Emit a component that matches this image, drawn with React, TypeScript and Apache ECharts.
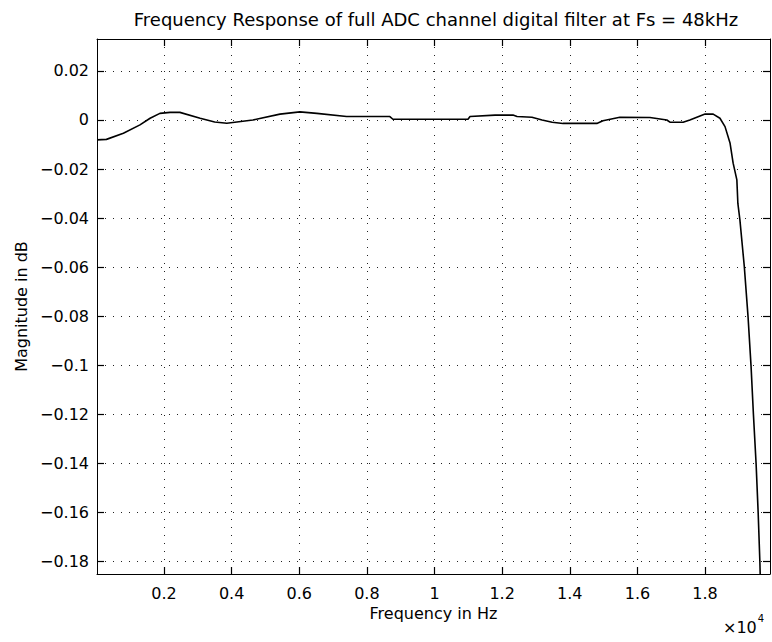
import React, { useEffect, useRef } from "react";
import * as echarts from "echarts";

const freqHz = [20, 300, 800, 1290, 1590, 1880, 2180, 2470, 3070, 3500, 3860, 4630, 5430, 6020, 6520, 7400, 8180, 8680, 8770, 10990, 11050, 11790, 12320, 12440, 12880, 13180, 13480, 13800, 14800, 14980, 15480, 16370, 16870, 16960, 17350, 17550, 17850, 18000, 18240, 18440, 18590, 18740, 18830, 18940, 18970, 19030, 19160, 19270, 19360, 19430, 19510, 19570, 19620, 19640];
const magDb = [-0.0081, -0.0079, -0.0054, -0.002, 0.0007, 0.0027, 0.0031, 0.0031, 0.0007, -0.0008, -0.0013, 0.0, 0.0024, 0.0033, 0.0027, 0.0014, 0.0014, 0.0014, 0.0003, 0.0003, 0.0014, 0.002, 0.002, 0.0014, 0.0011, 0.0, -0.0009, -0.0014, -0.0014, -0.0003, 0.0011, 0.001, 0.0, -0.0009, -0.0009, 0.0, 0.0016, 0.0024, 0.0024, 0.0007, -0.0027, -0.0095, -0.0176, -0.0244, -0.034, -0.0407, -0.0597, -0.08, -0.1004, -0.12, -0.1404, -0.16, -0.1798, -0.19];
const xTicks = [2000, 4000, 6000, 8000, 10000, 12000, 14000, 16000, 18000];
const yTicks = [0.02, 0, -0.02, -0.04, -0.06, -0.08, -0.1, -0.12, -0.14, -0.16, -0.18];

const FONT = "DejaVu Sans";

export default function App() {
  const ref = useRef<HTMLDivElement>(null);
  useEffect(() => {
    document.body.style.margin = "0";
    const chart = echarts.init(ref.current!, null, { renderer: "svg" });
    const fmtY = (v: number) => {
      const r = Math.round(v * 100) / 100;
      if (r === 0) return "0";
      return (r < 0 ? "\u2212" : "") + String(Math.abs(r));
    };
    const fmtX = (v: number) => String(Math.round(v / 1000) / 10);
    const grid = { left: 97, top: 39, width: 673, height: 535 };
    const tickStyle = { show: true, inside: true, length: 7, lineStyle: { color: "#000", width: 1.2 } };
    const splitStyle = { show: true, lineStyle: { color: "#222", width: 1, type: [1, 7] as any } };
    const labelStyle = { color: "#000", fontFamily: FONT, fontSize: 16 };
    const option: any = {
      animation: false,
      backgroundColor: "#fff",
      title: {
        text: "Frequency Response of full ADC channel digital filter at Fs = 48kHz",
        left: 431,
        textAlign: "center",
        top: 5,
        textStyle: { color: "#000", fontFamily: FONT, fontSize: 18, fontWeight: "normal" },
      },
      grid,
      xAxis: [
        {
          type: "value",
          min: 20,
          max: 19920,
          position: "bottom",
          name: "Frequency in Hz",
          nameLocation: "middle",
          nameGap: 31,
          nameTextStyle: labelStyle,
          axisLine: { show: true, onZero: false, lineStyle: { color: "#000", width: 1 } },
          axisTick: { ...tickStyle, customValues: xTicks },
          axisLabel: { ...labelStyle, margin: 11, customValues: xTicks, formatter: fmtX },
          splitLine: splitStyle,
        },
        {
          type: "value",
          min: 20,
          max: 19920,
          position: "top",
          axisLine: { show: true, onZero: false, lineStyle: { color: "#000", width: 1 } },
          axisTick: { ...tickStyle, customValues: xTicks },
          axisLabel: { show: false },
          splitLine: { show: false },
        },
      ],
      yAxis: [
        {
          type: "value",
          min: -0.185,
          max: 0.033,
          position: "left",
          name: "Magnitude in dB",
          nameLocation: "middle",
          nameGap: 68,
          nameTextStyle: labelStyle,
          axisLine: { show: true, onZero: false, lineStyle: { color: "#000", width: 1 } },
          axisTick: { ...tickStyle, customValues: yTicks },
          axisLabel: { ...labelStyle, margin: 8, customValues: yTicks, formatter: fmtY },
          splitLine: splitStyle,
        },
        {
          type: "value",
          min: -0.185,
          max: 0.033,
          position: "right",
          axisLine: { show: true, onZero: false, lineStyle: { color: "#000", width: 1 } },
          axisTick: { ...tickStyle, customValues: yTicks },
          axisLabel: { show: false },
          splitLine: { show: false },
        },
      ],
      graphic: [
        {
          type: "text",
          left: 723,
          top: 613,
          style: {
            text: "{a|\u00d710}{b|4}",
            rich: {
              a: { fontFamily: FONT, fontSize: 16, fill: "#000", verticalAlign: "bottom" },
              b: { fontFamily: FONT, fontSize: 10, fill: "#000", verticalAlign: "top", padding: [0, 0, 12, 1] },
            },
          },
        },
      ],
      series: [
        {
          type: "line",
          xAxisIndex: 0,
          yAxisIndex: 0,
          data: freqHz.map((f, i) => [f, magDb[i]]),
          showSymbol: false,
          symbol: "none",
          lineStyle: { color: "#000", width: 1.6 },
          clip: true,
        },
      ],
    };
    chart.setOption(option);
    return () => chart.dispose();
  }, []);
  return <div ref={ref} style={{ position: "absolute", left: 0, top: 0, width: 772, height: 642 }} />;
}
